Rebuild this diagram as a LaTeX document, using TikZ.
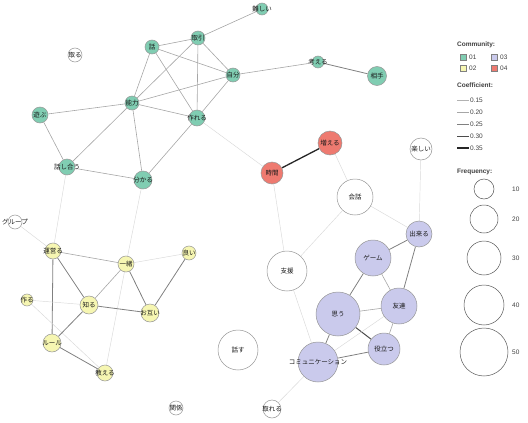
\documentclass[tikz,border=0pt]{standalone}
\usepackage{fontspec}
\setmainfont{Liberation Sans}
\newfontfamily\jp{Noto Sans CJK JP}
\usetikzlibrary{backgrounds}
\definecolor{c01}{RGB}{128,205,178}
\definecolor{c02}{RGB}{246,246,178}
\definecolor{c03}{RGB}{202,202,236}
\definecolor{c04}{RGB}{238,122,112}
\definecolor{bd}{RGB}{150,150,150}
\begin{document}
\begin{tikzpicture}[x=1pt,y=-1pt,
  lb/.style={font=\jp\fontsize{6.5}{6.5}\selectfont,text=black!90,inner sep=0pt},
  tx/.style={label={[lb]center:#1}},
  nd/.style={circle,draw=bd,line width=0.5pt,inner sep=0pt},
  k01/.style={nd,fill=c01},
  k02/.style={nd,fill=c02},
  k03/.style={nd,fill=c03},
  k04/.style={nd,fill=c04},
  kw/.style={nd,fill=white},
  e1/.style={draw=black!15,line width=0.45pt},
  e2/.style={draw=black!35,line width=0.6pt},
  e3/.style={draw=black!50,line width=0.8pt},
  e4/.style={draw=black!70,line width=1.0pt},
  e5/.style={draw=black!85,line width=1.3pt},
  lg/.style={font=\fontsize{6.5}{7}\selectfont,text=black!75,inner sep=0pt,anchor=west},
  lgb/.style={font=\bfseries\fontsize{6.5}{7}\selectfont,text=black!75,inner sep=0pt,anchor=west},
  sq/.style={draw=black!50,line width=0.4pt,minimum size=6.5,inner sep=0pt},
  fc/.style={circle,draw=black!65,line width=0.5pt,inner sep=0pt,fill=white}
]
\useasboundingbox (0,0) rectangle (528,423);
% community 01
\node[k01,minimum size=12,tx=難しい] (muzu) at (262,9) {};
\node[kw,minimum size=14,tx=取る] (toru) at (75,55) {};
\node[k01,minimum size=14,tx=話] (hana) at (152,47) {};
\node[k01,minimum size=14,tx=取引] (tori) at (198,38) {};
\node[k01,minimum size=14,tx=自分] (jibu) at (233,75) {};
\node[k01,minimum size=12,tx=考える] (kang) at (318,62) {};
\node[k01,minimum size=19,tx=相手] (aite) at (377,76) {};
\node[k01,minimum size=14,tx=能力] (nour) at (132,103) {};
\node[k01,minimum size=16,tx=遊ぶ] (asob) at (40,115) {};
\node[k01,minimum size=16,tx=作れる] (tsuk) at (197,118) {};
\node[k01,minimum size=16,tx=話し合う] (hanas) at (67,167) {};
\node[k01,minimum size=18,tx=分かる] (waka) at (143,180) {};
% community 04
\node[k04,minimum size=24,tx=増える] (fuer) at (330,143) {};
\node[k04,minimum size=22,tx=時間] (jika) at (272,173) {};
% white
\node[kw,minimum size=22,tx=楽しい] (tano) at (421,149) {};
\node[kw,minimum size=36,tx=会話] (kaiw) at (355,197) {};
\node[kw,minimum size=14,tx=グループ] (grou) at (15,222) {};
\node[kw,minimum size=40,tx=支援] (shie) at (287,271) {};
\node[kw,minimum size=40,tx=話す] (hnsu) at (238,350) {};
\node[kw,minimum size=14,tx=関係] (kank) at (176,408) {};
\node[kw,minimum size=18,tx=取れる] (tore) at (272,409) {};
% community 02
\node[k02,minimum size=16,tx=運営る] (unei) at (53,251) {};
\node[k02,minimum size=16,tx=一緒] (issh) at (126,264) {};
\node[k02,minimum size=14,tx=良い] (yoi) at (189,253) {};
\node[k02,minimum size=12,tx=作る] (tsku) at (27,300) {};
\node[k02,minimum size=18,tx=知る] (shir) at (89,305) {};
\node[k02,minimum size=18,tx=お互い] (otag) at (150,313) {};
\node[k02,minimum size=18,tx=ルール] (rule) at (52,343) {};
\node[k02,minimum size=16,tx=教える] (oshi) at (105,373) {};
% community 03
\node[k03,minimum size=26,tx=出来る] (deki) at (419,234) {};
\node[k03,minimum size=36,tx=ゲーム] (game) at (373,258) {};
\node[k03,minimum size=44,tx=思う] (omou) at (338,314) {};
\node[k03,minimum size=36,tx=友達] (tomo) at (399,306) {};
\node[k03,minimum size=32,tx=役立つ] (yaku) at (384,349) {};
\node[k03,minimum size=40,tx=コミュニケーション] (comm) at (318,362) {};
\begin{scope}[on background layer]
\draw[e2] (hana) -- (tori);
\draw[e2] (hana) -- (nour);
\draw[e2] (hana) -- (jibu);
\draw[e2] (hana) -- (tsuk);
\draw[e2] (tori) -- (muzu);
\draw[e2] (tori) -- (nour);
\draw[e2] (tori) -- (jibu);
\draw[e2] (tori) -- (tsuk);
\draw[e2] (jibu) -- (kang);
\draw[e3] (kang) -- (aite);
\draw[e2] (jibu) -- (nour);
\draw[e2] (jibu) -- (tsuk);
\draw[e2] (nour) -- (asob);
\draw[e2] (nour) -- (hanas);
\draw[e2] (nour) -- (waka);
\draw[e2] (nour) -- (tsuk);
\draw[e2] (asob) -- (hanas);
\draw[e2] (hanas) -- (waka);
\draw[e2] (tsuk) -- (waka);
\draw[e1] (tsuk) -- (jika);
\draw[e1] (waka) -- (issh);
\draw[e1] (hanas) -- (unei);
\draw[e5] (fuer) -- (jika);
\draw[e1] (fuer) -- (kaiw);
\draw[e1] (jika) -- (shie);
\draw[e1] (kaiw) -- (deki);
\draw[e1] (kaiw) -- (shie);
\draw[e1] (tano) -- (deki);
\draw[e1] (shie) -- (comm);
\draw[e1] (tore) -- (comm);
\draw[e1] (grou) -- (unei);
\draw[e2] (unei) -- (issh);
\draw[e3] (unei) -- (shir);
\draw[e3] (unei) -- (rule);
\draw[e2] (issh) -- (shir);
\draw[e3] (issh) -- (otag);
\draw[e1] (issh) -- (oshi);
\draw[e1] (issh) -- (yoi);
\draw[e3] (yoi) -- (otag);
\draw[e1] (tsku) -- (shir);
\draw[e1] (tsku) -- (oshi);
\draw[e3] (shir) -- (otag);
\draw[e3] (shir) -- (rule);
\draw[e3] (rule) -- (oshi);
\draw[e3] (deki) -- (game);
\draw[e3] (deki) -- (tomo);
\draw[e3] (game) -- (omou);
\draw[e2] (game) -- (tomo);
\draw[e2] (omou) -- (tomo);
\draw[e4] (omou) -- (yaku);
\draw[e3] (omou) -- (comm);
\draw[e2] (tomo) -- (yaku);
\draw[e1] (tomo) -- (comm);
\draw[e3] (yaku) -- (comm);
\end{scope}
% legend
\node[lgb] (lc) at (457,45) {Community:};
\node[sq,fill=c01] (s1) at (463,57) {};
\node[lg] (t1) at (469,57) {01};
\node[sq,fill=c03] (s3) at (494,57) {};
\node[lg] (t3) at (500,57) {03};
\node[sq,fill=c02] (s2) at (463,68) {};
\node[lg] (t2) at (469,68) {02};
\node[sq,fill=c04] (s4) at (494,68) {};
\node[lg] (t4) at (500,68) {04};
\node[lgb] (lco) at (457,85) {Coefficient:};
\coordinate (a1) at (457,100); \coordinate (b1) at (469,100);
\coordinate (a2) at (457,112); \coordinate (b2) at (469,112);
\coordinate (a3) at (457,124); \coordinate (b3) at (469,124);
\coordinate (a4) at (457,136); \coordinate (b4) at (469,136);
\coordinate (a5) at (457,148); \coordinate (b5) at (469,148);
\draw[e1,draw=black!30] (a1) -- (b1);
\draw[e2] (a2) -- (b2);
\draw[e3] (a3) -- (b3);
\draw[e4] (a4) -- (b4);
\draw[e5] (a5) -- (b5);
\node[lg] (v1) at (470,100) {0.15};
\node[lg] (v2) at (470,112) {0.20};
\node[lg] (v3) at (470,124) {0.25};
\node[lg] (v4) at (470,136) {0.30};
\node[lg] (v5) at (470,148) {0.35};
\node[lgb] (lf) at (457,172) {Frequency:};
\node[fc,minimum size=20] (f1) at (484,189) {};
\node[fc,minimum size=28] (f2) at (484,219) {};
\node[fc,minimum size=34] (f3) at (484,258) {};
\node[fc,minimum size=40] (f4) at (484,305) {};
\node[fc,minimum size=48] (f5) at (484,352) {};
\node[lg] (g1) at (512,189) {10};
\node[lg] (g2) at (512,219) {20};
\node[lg] (g3) at (512,258) {30};
\node[lg] (g4) at (512,305) {40};
\node[lg] (g5) at (512,352) {50};
\end{tikzpicture}
\end{document}
